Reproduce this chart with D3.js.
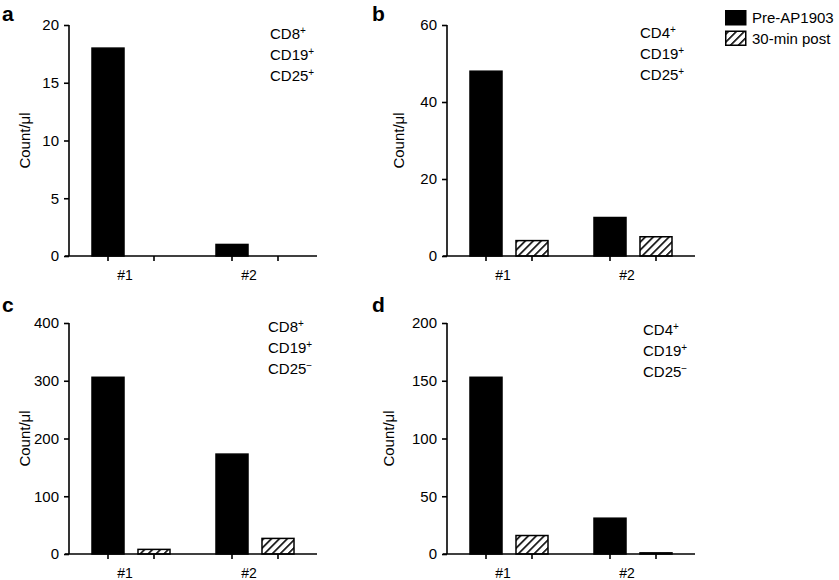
<!DOCTYPE html>
<html><head><meta charset="utf-8">
<script src="https://cdn.jsdelivr.net/npm/d3@7"></script>
<style>
body{margin:0;background:#fff;}
svg{display:block;font-family:"Liberation Sans",Arial,Helvetica,sans-serif;}
</style></head>
<body>
<script>
// ---- data ----
const categories = ["#1", "#2"];
const seriesNames = ["Pre-AP1903", "30-min post"];
const panelLetters = ["a", "b", "c", "d"];
const preValues  = [[18, 1], [48, 10], [306, 173], [153, 31]];
const postValues = [[0, 0], [4, 5], [8, 27], [16, 1]];
const yMax = [20, 60, 400, 200];
const yTicks = [[0, 5, 10, 15, 20], [0, 20, 40, 60], [0, 100, 200, 300, 400], [0, 50, 100, 150, 200]];
const markerLines = [
  [["CD8", "+"], ["CD19", "+"], ["CD25", "+"]],
  [["CD4", "+"], ["CD19", "+"], ["CD25", "+"]],
  [["CD8", "+"], ["CD19", "+"], ["CD25", "\u2212"]],
  [["CD4", "+"], ["CD19", "+"], ["CD25", "\u2212"]]
];
const yLabel = "Count/\u03bcl";

// ---- layout ----
const W = 839, H = 580;
const svg = d3.select("body").append("svg").attr("width", W).attr("height", H);

const defs = svg.append("defs");
const pat = defs.append("pattern").attr("id", "hatch")
  .attr("patternUnits", "userSpaceOnUse").attr("width", 5.6).attr("height", 5.6)
  .attr("patternTransform", "rotate(45)");
pat.append("rect").attr("width", 5.6).attr("height", 5.6).attr("fill", "#fff");
pat.append("line").attr("x1", 0).attr("y1", 0).attr("x2", 0).attr("y2", 5.6)
  .attr("stroke", "#000").attr("stroke-width", 3.2);

const panelOrigins = [[69, 25], [447, 25], [69, 323], [447, 323]];
const plotW = 248, plotH = 231;
const yLabelOffsets = [-39, -43, -39, -53];
const markerPos = [[270, 39], [640, 38], [268, 332], [643, 335]];
const letterPos = [[2, 21], [372, 21], [2, 312], [372, 312]];

panelLetters.forEach((letter, i) => {
  const [ox, oy] = panelOrigins[i];
  const g = svg.append("g").attr("transform", `translate(${ox},${oy})`);

  const x0 = d3.scaleBand().domain(categories).range([0, plotW]).paddingInner(0).paddingOuter(0);
  const x1 = d3.scaleBand().domain(seriesNames).range([0, x0.bandwidth()]).paddingInner(0.304).paddingOuter(0.5);
  const y = d3.scaleLinear().domain([0, yMax[i]]).range([plotH, 0]);

  const rows = categories.map((c, j) => ({cat: c, vals: [preValues[i][j], postValues[i][j]]}));

  // bars
  const grp = g.selectAll("g.grp").data(rows).join("g").attr("class", "grp")
    .attr("transform", d => `translate(${x0(d.cat)},0)`);
  grp.selectAll("rect").data(d => d.vals.map((v, k) => ({s: seriesNames[k], v, k})))
    .join("rect")
    .attr("x", d => x1(d.s))
    .attr("width", x1.bandwidth())
    .attr("y", d => y(d.v))
    .attr("height", d => Math.max(0, plotH - y(d.v)))
    .attr("fill", d => d.k === 0 ? "#000" : "url(#hatch)")
    .attr("stroke", "#000").attr("stroke-width", d => d.v > 0 ? 1.5 : 0);

  // y axis
  const ya = g.append("g").call(d3.axisLeft(y).tickValues(yTicks[i]).tickSize(5).tickPadding(5).tickFormat(d3.format("d")));
  ya.select(".domain").attr("d", `M0,${plotH}V0`).attr("stroke-width", 1.6);
  ya.selectAll(".tick line").attr("stroke-width", 1.6);
  ya.selectAll("text").attr("font-size", 15).attr("fill", "#000");

  // x axis: ticks at each bar center
  const xa = g.append("g").attr("transform", `translate(0,${plotH})`);
  xa.append("line").attr("x1", -4).attr("x2", plotW).attr("stroke", "#000").attr("stroke-width", 1.6);
  const tickXs = [];
  categories.forEach(c => seriesNames.forEach(s => tickXs.push(x0(c) + x1(s) + x1.bandwidth() / 2)));
  xa.selectAll("line.t").data(tickXs).join("line").attr("class", "t")
    .attr("x1", d => d).attr("x2", d => d).attr("y1", 0).attr("y2", 5)
    .attr("stroke", "#000").attr("stroke-width", 1.6);
  xa.selectAll("text").data(categories).join("text")
    .attr("x", d => x0(d) + x0.bandwidth() / 2 - 6)
    .attr("y", 24).attr("text-anchor", "middle").attr("font-size", 14).text(d => d);

  // y label
  g.append("text").attr("transform", `translate(${yLabelOffsets[i]},${plotH / 2}) rotate(-90)`)
    .attr("text-anchor", "middle").attr("font-size", 15).text(yLabel);

  // markers annotation
  const [mx, my] = markerPos[i];
  markerLines[i].forEach((m, k) => {
    const t = svg.append("text").attr("x", mx).attr("y", my + k * 20.8).attr("font-size", 15);
    t.append("tspan").text(m[0]);
    t.append("tspan").attr("font-size", 10).attr("dy", -5).text(m[1]);
  });

  // panel letter
  svg.append("text").attr("x", letterPos[i][0]).attr("y", letterPos[i][1])
    .attr("font-size", 21).attr("font-weight", "bold").text(letter);
});

// legend
const leg = svg.append("g").attr("transform", "translate(725,10)");
seriesNames.forEach((s, k) => {
  leg.append("rect").attr("x", 0.75).attr("y", k * 20.5 + 0.75).attr("width", 20).attr("height", 14)
    .attr("fill", k === 0 ? "#000" : "url(#hatch)").attr("stroke", "#000").attr("stroke-width", 1.5);
  leg.append("text").attr("x", 27).attr("y", k * 20.5 + 13).attr("font-size", 15).text(s);
});
</script>
</body></html>
